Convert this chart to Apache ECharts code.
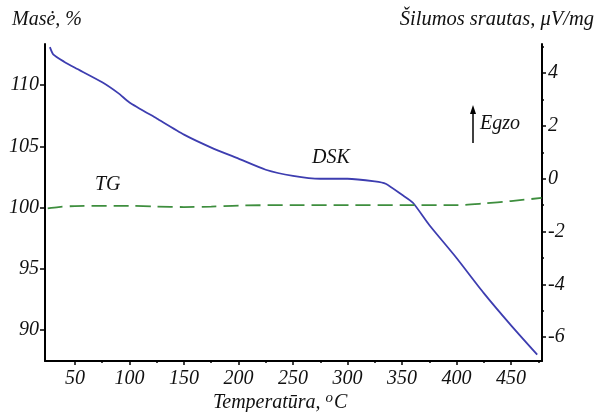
<!DOCTYPE html>
<html>
<head>
<meta charset="utf-8">
<script src="https://cdn.jsdelivr.net/npm/echarts@6/dist/echarts.min.js"></script>
<style>
    html, body { margin: 0; padding: 0; background: #fff; }
    #cn { width: 596px; height: 412px; }
</style>
</head>
<body>
<div id="cn"></div>
<script>
'use strict';

// DSK curve (heat flow, right axis)
const arrDskT = [27, 30, 40, 50, 75, 90, 100, 125, 150, 175, 200, 225, 250, 275, 300, 325, 335, 350, 360, 375, 400, 425, 450, 474];
const arrDsk = [4.98, 4.71, 4.43, 4.20, 3.65, 3.23, 2.89, 2.28, 1.67, 1.18, 0.76, 0.34, 0.11, 0.0, 0.0, -0.1, -0.19, -0.61, -0.91, -1.75, -3.0, -4.33, -5.55, -6.66];

// TG curve (mass, left axis)
const arrTgT = [25, 35, 50, 100, 125, 150, 175, 200, 250, 300, 350, 400, 425, 450, 478];
const arrTg = [99.93, 100.04, 100.12, 100.14, 100.08, 100.04, 100.08, 100.16, 100.2, 100.2, 100.2, 100.2, 100.33, 100.53, 100.78];

// ticks
const arrXLabel = [50, 100, 150, 200, 250, 300, 350, 400, 450];
const arrXMinor = [75, 125, 175, 225, 275, 325, 375, 425, 475];
const arrMassLabel = [90, 95, 100, 105, 110];
const arrHeatLabel = [-6, -4, -2, 0, 2, 4];
const arrHeatMinor = [-5, -3, -1, 1, 3, 5];

const FONT = 'Liberation Serif';
const txt = {
    fontFamily: FONT,
    fontStyle: 'italic',
    fontSize: 20,
    color: '#111'
};
const gtxt = Object.assign({}, txt, { fill: '#111' });
const axisLine = { show: true, onZero: false, lineStyle: { color: '#000', width: 2 } };
const tickStyle = { color: '#000', width: 1.5 };

const chart = echarts.init(document.getElementById('cn'));

let option = {
    animation: false,
    grid: { left: 45, right: 54, top: 44, bottom: 51, outerBoundsMode: 'none', containLabel: false },
    xAxis: [
        {
            type: 'value',
            min: 22.5,
            max: 478.4,
            position: 'bottom',
            axisLine: axisLine,
            splitLine: { show: false },
            axisTick: { customValues: arrXLabel, length: 4, lineStyle: tickStyle },
            axisLabel: Object.assign({ customValues: arrXLabel, margin: 8 }, txt)
        },
        {
            type: 'value',
            min: 22.5,
            max: 478.4,
            position: 'bottom',
            axisLine: { show: false, onZero: false },
            splitLine: { show: false },
            axisLabel: { show: false },
            axisTick: { customValues: arrXMinor, length: 2, lineStyle: tickStyle }
        }
    ],
    yAxis: [
        {
            type: 'value',
            min: 87.46,
            max: 113.36,
            position: 'left',
            axisLine: axisLine,
            splitLine: { show: false },
            axisTick: { customValues: arrMassLabel, length: 5, lineStyle: tickStyle },
            axisLabel: Object.assign({ customValues: arrMassLabel, margin: 6 }, txt)
        },
        {
            type: 'value',
            min: -6.9,
            max: 5.1,
            position: 'right',
            axisLine: axisLine,
            splitLine: { show: false },
            axisTick: { customValues: arrHeatLabel, length: 4, lineStyle: tickStyle },
            axisLabel: Object.assign({ customValues: arrHeatLabel, margin: 6 }, txt)
        },
        {
            type: 'value',
            min: -6.9,
            max: 5.1,
            position: 'right',
            axisLine: { show: false, onZero: false },
            splitLine: { show: false },
            axisLabel: { show: false },
            axisTick: { customValues: arrHeatMinor, length: 2, lineStyle: tickStyle }
        }
    ],
    graphic: [
        { type: 'text', left: 12, top: 10, style: Object.assign({ text: 'Masė, %' }, gtxt) },
        { type: 'text', right: 2, top: 10, style: Object.assign({ text: 'Šilumos srautas, μV/mg' }, gtxt, { fontSize: 20.5 }) },
        {
            type: 'text', left: 213, top: 391,
            style: Object.assign({
                text: 'Temperatūra, {sup|o}C',
                rich: { sup: Object.assign({}, gtxt, { fontSize: 15, verticalAlign: 'top', padding: [0, 1, 9, 0] }) }
            }, gtxt)
        },
        { type: 'text', left: 95, top: 175, style: Object.assign({ text: 'TG' }, gtxt) },
        { type: 'text', left: 312, top: 148, style: Object.assign({ text: 'DSK' }, gtxt) },
        { type: 'text', left: 480, top: 114, style: Object.assign({ text: 'Egzo' }, gtxt) },
        { type: 'line', shape: { x1: 473, y1: 143, x2: 473, y2: 110 }, style: { stroke: '#000', lineWidth: 1.5 } },
        { type: 'polygon', shape: { points: [[473, 105], [470, 114], [476, 114]] }, style: { fill: '#000' } }
    ],
    series: [
        {
            name: 'DSK',
            type: 'line',
            xAxisIndex: 0,
            yAxisIndex: 1,
            data: _zip(arrDskT, arrDsk),
            smooth: 0.2,
            showSymbol: false,
            lineStyle: { color: '#3d3db0', width: 1.8 }
        },
        {
            name: 'TG',
            type: 'line',
            xAxisIndex: 0,
            yAxisIndex: 0,
            data: _zip(arrTgT, arrTg),
            smooth: 0.3,
            showSymbol: false,
            lineStyle: { color: '#3e8e3e', width: 1.8, type: [15, 7] }
        }
    ]
};

function _zip(a, b) {
    return a.map((v, i) => [v, b[i]]);
}

chart.setOption(option);
</script>
</body>
</html>
